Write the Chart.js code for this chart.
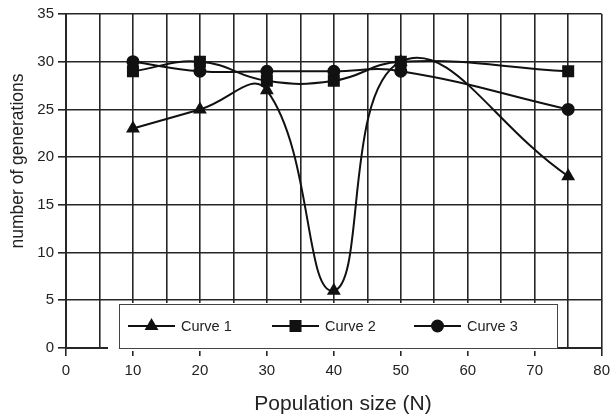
<!DOCTYPE html>
<html>
<head>
<meta charset="utf-8">
<script src="https://cdn.jsdelivr.net/npm/chart.js@4"></script>
<style>
  html, body { margin: 0; padding: 0; background: #fff; }
  #wrap { width: 616px; height: 416px; }
</style>
</head>
<body>
<div id="wrap"><canvas id="myChart" width="616" height="416"></canvas></div>
<script>
// population sizes (N)
const popSizes = [10, 20, 30, 40, 50, 75];
// number of generations per curve
const curve1 = [23, 25, 27, 6, 30, 18];
const curve2 = [29, 30, 28, 28, 30, 29];
const curve3 = [30, 29, 29, 29, 29, 25];
const seriesNames = ['Curve 1', 'Curve 2', 'Curve 3'];
const markers = ['triangle', 'rect', 'circle'];
const markerSizes = [8, 8.5, 6.5];

const xTicks = [0, 10, 20, 30, 40, 50, 60, 70, 80];
const yTicks = [0, 5, 10, 15, 20, 25, 30, 35];
const xTitle = 'Population size (N)';
const yTitle = 'number of generations';

const FONT = '"Liberation Sans", Arial, sans-serif';
const ink = '#111';
const gridCol = '#262626';

function toPoints(vals) {
  return popSizes.map((n, i) => ({ x: n, y: vals[i] }));
}

const allSeries = [curve1, curve2, curve3];
const datasets = allSeries.map((vals, i) => ({
  label: seriesNames[i],
  data: toPoints(vals),
  borderColor: ink,
  backgroundColor: ink,
  borderWidth: 2,
  pointStyle: markers[i],
  pointRadius: markerSizes[i],
  pointBackgroundColor: ink,
  pointBorderColor: ink,
  pointBorderWidth: 0,
  tension: 0.45,
  fill: false
}));

// legend box inside the plot + axis titles placed like the original
const extras = {
  id: 'extras',
  afterDraw(chart) {
    const ctx = chart.ctx;
    const a = chart.chartArea;
    const left = a.left + 53, right = a.left + 491;
    const top = a.bottom - 44, bottom = a.bottom;
    ctx.save();
    ctx.fillStyle = '#fff';
    ctx.fillRect(a.left + 42, top - 1, 439, bottom - top + 4);
    ctx.fillRect(left, top, right - left, bottom - top + 3);
    ctx.strokeStyle = '#444';
    ctx.lineWidth = 1;
    ctx.strokeRect(left + 0.5, top + 0.5, right - left, bottom - top);

    const cy = top + 22;
    const starts = [a.left + 62, a.left + 206, a.left + 348];
    ctx.font = '14.5px ' + FONT;
    ctx.textBaseline = 'middle';
    ctx.textAlign = 'left';
    starts.forEach((sx, i) => {
      ctx.strokeStyle = ink;
      ctx.lineWidth = 2;
      ctx.beginPath();
      ctx.moveTo(sx, cy);
      ctx.lineTo(sx + 47, cy);
      ctx.stroke();
      ctx.fillStyle = ink;
      Chart.helpers.drawPoint(ctx, {
        pointStyle: markers[i], rotation: 0, borderWidth: 0, radius: markerSizes[i]
      }, sx + 23.5, cy);
      ctx.fillStyle = '#222';
      ctx.fillText(seriesNames[i], sx + 53, cy + 1);
    });

    // axis titles
    ctx.fillStyle = '#222';
    ctx.textAlign = 'center';
    ctx.textBaseline = 'alphabetic';
    ctx.font = '21px ' + FONT;
    ctx.fillText(xTitle, a.left + 277, 410);
    ctx.translate(23, a.top + 147);
    ctx.rotate(-Math.PI / 2);
    ctx.font = '17.5px ' + FONT;
    ctx.fillText(yTitle, 0, 0);
    ctx.restore();
  }
};

new Chart(document.getElementById('myChart'), {
  type: 'line',
  data: { datasets: datasets },
  plugins: [extras],
  options: {
    responsive: false,
    animation: false,
    layout: { padding: { top: 14, right: 10, left: 0, bottom: 0 } },
    plugins: {
      legend: { display: false },
      tooltip: { enabled: false }
    },
    scales: {
      x: {
        type: 'linear',
        min: 0,
        max: 80,
        afterBuildTicks: s => { s.ticks = []; for (let v = 0; v <= 80; v += 5) s.ticks.push({ value: v }); },
        ticks: {
          autoSkip: false,
          maxRotation: 0,
          padding: 6,
          color: '#222',
          font: { family: FONT, size: 15 },
          callback: v => xTicks.includes(v) ? String(v) : ''
        },
        grid: {
          color: gridCol,
          lineWidth: 1.6,
          tickLength: 8,
          tickColor: c => (c.tick && c.tick.value % 10 === 0) ? gridCol : 'rgba(0,0,0,0)'
        },
        border: { display: true, color: gridCol, width: 2 },
        title: { display: false },
        afterFit: s => { s.height = 68; }
      },
      y: {
        min: 0,
        max: 35,
        afterBuildTicks: s => { s.ticks = yTicks.map(v => ({ value: v })); },
        ticks: {
          padding: 4,
          color: '#222',
          font: { family: FONT, size: 15 }
        },
        grid: {
          color: gridCol,
          lineWidth: 1.6,
          tickLength: 8
        },
        border: { display: true, color: gridCol, width: 2 },
        title: { display: false },
        afterFit: s => { s.width = 66; }
      }
    }
  }
});
</script>
</body>
</html>
